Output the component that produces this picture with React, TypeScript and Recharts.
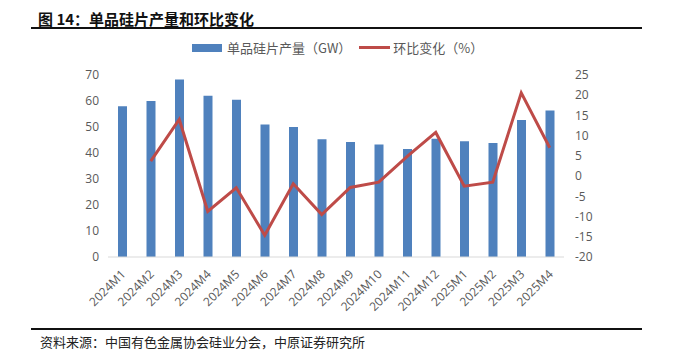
import { Bar, ComposedChart, Line, XAxis, YAxis } from "recharts";

const months = [
  "2024M1", "2024M2", "2024M3", "2024M4", "2024M5", "2024M6", "2024M7", "2024M8",
  "2024M9", "2024M10", "2024M11", "2024M12", "2025M1", "2025M2", "2025M3", "2025M4",
];
const output = [58, 60, 68.3, 62, 60.5, 51, 50, 45.3, 44.2, 43.3, 41.5, 45.5, 44.5, 43.8, 52.7, 56.3];
const mom = [null, 3.7, 14, -8.7, -2.9, -14.6, -1.9, -9.5, -2.8, -1.5, 4.9, 10.8, -2.5, -1.5, 20.6, 7];
const leftTicks = [0, 10, 20, 30, 40, 50, 60, 70];
const rightTicks = [-20, -15, -10, -5, 0, 5, 10, 15, 20, 25];

const data = months.map((m, i) => ({ name: m, output: output[i], mom: mom[i] }));

const cjk = '"Noto Sans CJK SC", "Microsoft YaHei", sans-serif';
const tickFont = '"Open Sans", sans-serif';
const grey = "#595959";

const AngledTick = (props: any) => {
  const { x, y, payload } = props;
  return (
    <text
      x={x + 4}
      y={y + 10}
      transform={`rotate(-45 ${x + 4} ${y + 10})`}
      textAnchor="end"
      fontSize={12}
      fill={grey}
      fontFamily={tickFont}
    >
      {payload.value}
    </text>
  );
};

export default function App() {
  return (
    <div style={{ position: "absolute", left: 0, top: 0, width: 700, height: 356, background: "#fff", fontFamily: cjk }}>
      <div style={{ position: "absolute", left: 38, top: 8, fontSize: 15, fontWeight: 700, color: "#111" }}>
        图 14：单品硅片产量和环比变化
      </div>
      <div style={{ position: "absolute", left: 31, top: 27, width: 611, height: 2, background: "#111" }} />

      <div style={{ position: "absolute", left: 192, top: 38, display: "flex", alignItems: "center", fontSize: 13, color: grey }}>
        <span style={{ display: "inline-block", width: 30, height: 8, background: "#4f81bd", marginRight: 5 }} />
        <span>单品硅片产量（GW）</span>
        <span style={{ display: "inline-block", width: 31, height: 3, background: "#be4b48", margin: "0 3px 0 8px" }} />
        <span>环比变化（%）</span>
      </div>

      <div style={{ position: "absolute", left: 0, top: 0 }}>
        <ComposedChart width={700} height={356} data={data} margin={{ top: 75, right: 0, bottom: 39, left: 0 }}>
          <XAxis
            dataKey="name"
            interval={0}
            height={60}
            tick={<AngledTick />}
            tickLine={false}
            axisLine={{ stroke: "#d9d9d9" }}
          />
          <YAxis
            yAxisId="left"
            width={108}
            domain={[0, 70]}
            ticks={leftTicks}
            tickSize={0}
            tickMargin={9}
            tickLine={false}
            axisLine={false}
            tick={{ fontSize: 12, fill: grey, fontFamily: tickFont }}
          />
          <YAxis
            yAxisId="right"
            orientation="right"
            width={136}
            domain={[-20, 25]}
            ticks={rightTicks}
            tickSize={0}
            tickMargin={11}
            tickLine={false}
            axisLine={false}
            tick={{ fontSize: 12, fill: grey, textAnchor: "start", fontFamily: tickFont }}
          />
          <Bar yAxisId="left" dataKey="output" fill="#4f81bd" barSize={9} isAnimationActive={false} />
          <Line
            yAxisId="right"
            dataKey="mom"
            stroke="#be4b48"
            strokeWidth={3}
            dot={false}
            activeDot={false}
            isAnimationActive={false}
          />
        </ComposedChart>
      </div>

      <div style={{ position: "absolute", left: 31, top: 328, width: 611, height: 2, background: "#111" }} />
      <div style={{ position: "absolute", left: 40, top: 332, fontSize: 13, color: "#222" }}>
        资料来源：中国有色金属协会硅业分会，中原证券研究所
      </div>
    </div>
  );
}
